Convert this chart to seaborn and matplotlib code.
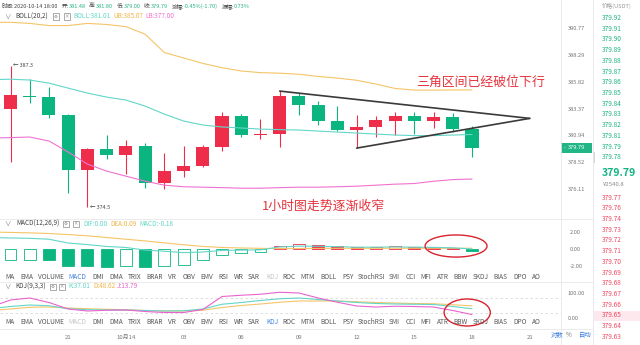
import numpy as np
import matplotlib
matplotlib.use("Agg")
import matplotlib.pyplot as plt
import seaborn as sns
from matplotlib.patches import Rectangle, Ellipse
from matplotlib.lines import Line2D
from matplotlib.ticker import NullLocator, NullFormatter

# ---------------- data ----------------
# hourly candles, 2020-10-13 18:00 through 2020-10-14 18:00
opens = [383.32, 384.55, 384.42, 382.77, 377.80, 379.69, 379.15, 379.96, 376.68, 377.71,
         378.16, 379.87, 382.70, 380.96, 381.05, 384.50, 383.68, 382.23, 381.42, 381.69,
         382.23, 382.70, 382.23, 382.60, 381.48]
highs = [387.30, 386.06, 385.33, 382.85, 379.75, 380.96, 380.51, 380.24, 379.33, 379.96,
         380.05, 383.06, 382.88, 382.43, 384.96, 384.78, 384.04, 383.59, 382.77, 382.70,
         383.06, 383.06, 383.06, 382.97, 381.80]
lows = [378.50, 383.86, 382.50, 375.73, 374.50, 378.79, 377.44, 376.18, 376.09, 377.17,
        378.10, 379.51, 380.78, 380.60, 379.87, 382.77, 381.87, 381.33, 379.78, 380.78,
        380.96, 381.05, 381.60, 381.23, 379.00]
closes = [384.60, 384.38, 382.77, 377.80, 379.69, 379.15, 379.96, 376.68, 377.71, 378.16,
          379.87, 382.70, 380.96, 381.06, 384.50, 383.68, 382.23, 381.42, 381.69, 382.33,
          382.70, 382.23, 382.60, 381.49, 379.79]

# indicator lines start one hour earlier (the bar just left of the window)
line_hours = list(range(-1, 25))
boll_mid = [386.00, 386.05, 385.97, 385.69, 385.23, 384.78, 384.41, 384.14, 383.59, 382.86,
            382.23, 381.87, 381.69, 381.60, 381.50, 381.45, 381.41, 381.32, 381.23, 381.14,
            381.05, 380.96, 380.91, 380.91, 380.96, 381.01]
boll_up = [391.30, 391.30, 391.20, 391.00, 391.00, 391.20, 391.10, 390.90, 390.20, 388.50,
           388.00, 387.50, 387.10, 386.80, 386.65, 386.60, 386.50, 386.30, 386.15, 385.95,
           385.60, 385.20, 385.05, 385.05, 385.06, 385.07]
boll_low = [380.69, 380.73, 380.78, 380.42, 379.42, 378.34, 377.71, 377.26, 376.81, 376.45,
            376.31, 376.27, 376.23, 376.18, 376.18, 376.23, 376.27, 376.27, 376.31, 376.36,
            376.45, 376.54, 376.60, 376.80, 376.95, 377.00]

dif = [1.35, 1.30, 1.26, 1.15, 0.70, 0.52, 0.30, 0.18, -0.13, -0.26, -0.43, -0.35, -0.17,
       -0.13, -0.10, 0.24, 0.34, 0.32, 0.28, 0.21, 0.22, 0.24, 0.22, 0.19, 0.14, 0.00]
dea = [2.00, 1.95, 1.90, 1.82, 1.70, 1.55, 1.35, 1.15, 0.95, 0.72, 0.50, 0.30, 0.18, 0.12,
       0.08, 0.06, 0.06, 0.07, 0.08, 0.08, 0.08, 0.09, 0.09, 0.09, 0.09, 0.09]
macd_hist = [-1.30, -1.28, -1.35, -2.00, -2.05, -2.10, -1.95, -2.15, -1.95, -1.85, -1.30,
             -0.70, -0.50, -0.35, 0.35, 0.55, 0.50, 0.40, 0.25, 0.28, 0.30, 0.25, 0.20,
             0.10, -0.18]

kdj_k = [38, 46, 52, 49, 37, 33, 32, 32, 30, 28, 29, 36, 55, 62, 70, 77, 80, 74, 68, 62,
         58, 56, 55, 54, 46, 37.01]
kdj_d = [30, 36, 43, 44, 40, 37, 35, 33, 30, 28, 28, 31, 42, 50, 56, 63, 68, 68, 68, 65,
         62, 60, 58, 57, 53, 48.62]
kdj_j = [45, 72, 80, 62, 36, 28, 31, 32, 26, 22, 22, 34, 86, 91, 95, 103, 100, 80, 63, 48,
         44, 47, 46, 44, 30, 13.79]

price_ticks = [390.77, 388.29, 385.82, 383.37, 380.94, 378.52, 376.11]
macd_ticks = [2.0, 0.0, -2.0]
kdj_ticks = [100.0, 0.0]
time_tick_hours = [3, 6, 9, 12, 15, 18, 21, 24, 27]
time_tick_labels = ["21", "10月14", "03", "06", "09", "12", "15", "18", "21"]

triangle_apex = (27.0, 382.47)

book_asks = ["379.92", "379.91", "379.90", "379.89", "379.88", "379.87", "379.86",
             "379.85", "379.84", "379.83", "379.82", "379.81", "379.79", "379.78"]
book_bids = ["379.77", "379.76", "379.74", "379.73", "379.72", "379.71", "379.70",
             "379.69", "379.68", "379.67", "379.66", "379.65", "379.64", "379.63"]
cny_price = "¥2540.8"

tab_names = ["MA", "EMA", "VOLUME", "MACD", "DMI", "DMA", "TRIX", "BRAR", "VR", "OBV",
             "EMV", "RSI", "WR", "SAR", "KDJ", "ROC", "MTM", "BOLL", "PSY", "StochRSI",
             "SMI", "CCI", "MFI", "ATR", "BBW", "SKDJ", "BIAS", "DPO", "AO"]

# ---------------- style ----------------
RED = "#ee2d4b"
GREEN = "#0bb57f"
TEAL = "#62d6c8"
ORANGE = "#f5c468"
PINK = "#ef72d0"
MAGENTA = "#e963cf"
VAL = "#27b487"
GREY = "#777777"
DARK = "#444444"
BLUE = "#3d7fdf"
LINE = "#e8e8e8"
NOTE_RED = "#e6343f"

sns.set_theme(style="white")
plt.rcParams["font.family"] = ["Noto Sans CJK SC", "DejaVu Sans"]
plt.rcParams["axes.unicode_minus"] = False

W, H = 640, 345
fig = plt.figure(figsize=(W / 100, H / 100), dpi=100, facecolor="white")
renderer = fig.canvas.get_renderer()


def px_axes(x0, y0, x1, y1):
    a = fig.add_axes([x0 / W, 1 - y1 / H, (x1 - x0) / W, (y1 - y0) / H])
    a.set_facecolor("none")
    for s in a.spines.values():
        s.set_visible(False)
    return a


def ftxt(x, y, s, size=4.6, color=DARK, ha="left", **kw):
    return fig.text(x / W, 1 - y / H, s, fontsize=size, color=color, ha=ha,
                    va="center", **kw)


def run_text(x, y, parts, size, gap=0.0):
    """Lay out coloured text pieces one after another starting at x."""
    for s, col, extra in parts:
        t = ftxt(x, y, s, size=size, color=col)
        bb = t.get_window_extent(renderer)
        x = bb.x1 * W / fig.bbox.width + extra + gap
    return x


def fline(x0, y0, x1, y1, color=LINE, lw=0.6):
    fig.add_artist(Line2D([x0 / W, x1 / W], [1 - y0 / H, 1 - y1 / H],
                          color=color, lw=lw, transform=fig.transFigure))


def frect(x0, y0, x1, y1, **kw):
    fig.add_artist(Rectangle((x0 / W, 1 - y1 / H), (x1 - x0) / W, (y1 - y0) / H,
                             transform=fig.transFigure, **kw))


def icon(x0, y0, kind):
    frect(x0, y0, x0 + 5.5, y0 + 6, facecolor="white", edgecolor="#8a8a8a", lw=0.5)
    ftxt(x0 + 2.75, y0 + 3, "⚙" if kind == "gear" else "×", size=3.2,
         color="#777777", ha="center")


XLIM = ((0 - 10.5) / 19.23, (561 - 10.5) / 19.23)
hours = np.arange(len(closes))
o = np.array(opens)
c = np.array(closes)
cols = np.where(c >= o, RED, GREEN)

# ---------------- main price panel ----------------
ax = px_axes(0, 0, 561, 217)
ax.set_yscale("log")
ax.vlines(hours, lows, highs, colors=cols, linewidth=0.8, zorder=3)
ax.bar(hours, np.maximum(np.abs(c - o), 0.09), bottom=np.minimum(o, c), width=0.68,
       color=cols, linewidth=0, zorder=4)
for vals, col in [(boll_up, ORANGE), (boll_mid, TEAL), (boll_low, PINK)]:
    sns.lineplot(x=line_hours, y=vals, ax=ax, color=col, linewidth=0.8, zorder=5,
                 legend=False)

# converging triangle
ax.plot([14, triangle_apex[0]], [highs[14], triangle_apex[1]], color="#3a3a3a",
        lw=1.2, zorder=6, solid_capstyle="round")
ax.plot([18, triangle_apex[0]], [lows[18], triangle_apex[1]], color="#3a3a3a",
        lw=1.2, zorder=6, solid_capstyle="round")

i_hi = int(np.argmax(highs))
i_lo = int(np.argmin(lows))
ax.annotate(f"← {highs[i_hi]:.1f}", xy=(i_hi, highs[i_hi]), xytext=(2, 0),
            textcoords="offset points", fontsize=3.9, color=DARK, va="center")
ax.annotate(f"← {lows[i_lo]:.1f}", xy=(i_lo, lows[i_lo]), xytext=(2, 0),
            textcoords="offset points", fontsize=3.9, color=DARK, va="center")

ax.set_xlim(*XLIM)
ax.set_ylim(373.615, 393.38)
ax.yaxis.tick_right()
ax.set_yticks(price_ticks)
ax.set_yticklabels([f"{v:.2f}" for v in price_ticks])
ax.yaxis.set_minor_locator(NullLocator())
ax.yaxis.set_minor_formatter(NullFormatter())
ax.set_xticks([])
ax.tick_params(axis="y", length=0, pad=5, labelsize=4.1, colors=GREY)
ax.set_xlabel("")
ax.set_ylabel("")

# ---------------- MACD panel ----------------
ax2 = px_axes(0, 225, 561, 272)
hist = np.array(macd_hist)
rising = np.r_[True, hist[1:] >= hist[:-1]]
hcol = np.where(hist >= 0, RED, GREEN)
face = np.where(rising, "white", hcol)
ax2.bar(hours, hist, width=0.62, color=face, edgecolor=hcol, linewidth=0.6, zorder=2)
sns.lineplot(x=line_hours, y=dea, ax=ax2, color=ORANGE, linewidth=0.8, zorder=4,
             legend=False)
sns.lineplot(x=line_hours, y=dif, ax=ax2, color=TEAL, linewidth=0.8, zorder=4,
             legend=False)
ax2.add_patch(Ellipse((23.17, 0.35), 3.22, 2.6, fill=False, edgecolor="#d9232e",
                      lw=1.0, zorder=6, clip_on=False))
ax2.set_xlim(*XLIM)
ax2.set_ylim(-2.706, 2.824)
ax2.yaxis.tick_right()
ax2.set_yticks(macd_ticks)
ax2.set_yticklabels([f"{v:.2f}" for v in macd_ticks])
ax2.set_xticks([])
ax2.tick_params(axis="y", length=0, pad=6, labelsize=4.1, colors=GREY)
ax2.set_xlabel("")
ax2.set_ylabel("")

# ---------------- KDJ panel ----------------
ax3 = px_axes(0, 289, 561, 321)
for lvl in (80, 20):
    ax3.axhline(lvl, color="#d9d9d9", lw=0.6, dashes=(3, 3), zorder=1)
sns.lineplot(x=line_hours, y=kdj_d, ax=ax3, color=ORANGE, linewidth=0.8, zorder=3,
             legend=False)
sns.lineplot(x=line_hours, y=kdj_k, ax=ax3, color=TEAL, linewidth=0.8, zorder=3,
             legend=False)
sns.lineplot(x=line_hours, y=kdj_j, ax=ax3, color=MAGENTA, linewidth=0.8, zorder=3,
             legend=False)
ax3.add_patch(Ellipse((23.75, 22), 2.4, 108, fill=False, edgecolor="#d9232e",
                      lw=1.0, zorder=6, clip_on=False))
ax3.set_xlim(*XLIM)
ax3.set_ylim(-12, 116)
ax3.yaxis.tick_right()
ax3.set_yticks(kdj_ticks)
ax3.set_yticklabels([f"{v:.2f}" for v in kdj_ticks])
ax3.set_xticks(time_tick_hours)
ax3.set_xticklabels(time_tick_labels)
ax3.tick_params(axis="y", length=0, pad=5, labelsize=4.1, colors=GREY)
ax3.tick_params(axis="x", length=0, pad=10, labelsize=4.3, colors=GREY)
ax3.set_xlabel("")
ax3.set_ylabel("")

# ---------------- frame lines ----------------
fline(561, 0, 561, 345)
fline(593, 0, 593, 345)
fline(0, 218.5, 593, 218.5)
fline(0, 281.5, 593, 281.5)
fline(0, 328.5, 593, 328.5)

# ---------------- header rows ----------------
hdr = 4.6
chg = closes[-1] - closes[-2]
pct = chg / closes[-2] * 100
amp = (highs[-1] - lows[-1]) / closes[-2] * 100
quote = [("时间:", DARK, 0), ("2020-10-14 18:00", DARK, 3.5),
         ("开:", DARK, 0), (f"{opens[-1]:.2f}", VAL, 3.5),
         ("高:", DARK, 0), (f"{highs[-1]:.2f}", VAL, 3.5),
         ("低:", DARK, 0), (f"{lows[-1]:.2f}", VAL, 3.5),
         ("收:", DARK, 0), (f"{closes[-1]:.2f}", VAL, 3.5),
         ("涨幅:", DARK, 0), (f"{pct:.2f}%({chg:.2f})", VAL, 3.5),
         ("振幅:", DARK, 0), (f"{amp:.2f}%", VAL, 0)]
run_text(2, 6, quote, size=4.0)

ftxt(7, 16.5, "∨", size=hdr, color=GREY, ha="center")
ftxt(15, 16.5, "BOLL(20,2)", size=hdr, color=DARK)
icon(53, 13.5, "gear")
icon(64, 13.5, "close")
ftxt(73, 16.5, f"BOLL:{boll_mid[-1]:.2f}", size=hdr, color=TEAL)
ftxt(113, 16.5, f"UB:{boll_up[-1]:.2f}", size=hdr, color="#f0b445")
ftxt(145, 16.5, f"LB:{boll_low[-1]:.2f}", size=hdr, color=PINK)

ftxt(7, 223.5, "∨", size=hdr, color=GREY, ha="center")
ftxt(16, 223.5, "MACD(12,26,9)", size=hdr, color=DARK)
icon(63, 220.5, "gear")
icon(73, 220.5, "close")
ftxt(83, 223.5, f"DIF:{dif[-1]:.2f}", size=hdr, color=TEAL)
ftxt(110, 223.5, f"DEA:{dea[-1]:.2f}", size=hdr, color="#f0b445")
ftxt(139, 223.5, f"MACD:{macd_hist[-1]:.2f}", size=hdr, color=TEAL)

ftxt(7, 286.5, "∨", size=hdr, color=GREY, ha="center")
ftxt(15, 286.5, "KDJ(9,3,3)", size=hdr, color=DARK)
icon(50, 283.5, "gear")
icon(59, 283.5, "close")
ftxt(68, 286.5, f"K:{kdj_k[-1]:.2f}", size=hdr, color=TEAL)
ftxt(93, 286.5, f"D:{kdj_d[-1]:.2f}", size=hdr, color="#f0b445")
ftxt(117, 286.5, f"J:{kdj_j[-1]:.2f}", size=hdr, color=MAGENTA)

# ---------------- indicator tab rows ----------------
tab_x = [9.5, 27, 51, 77, 98.5, 116, 135, 155, 172, 189, 206.5, 223, 239, 254, 272,
         288.5, 308, 328.5, 348, 372, 394, 411, 425.5, 442.5, 460.5, 480.5, 500.5,
         520.5, 536]
for row_y, active, muted in [(277, "MACD", "KDJ"), (322.5, "KDJ", "MACD")]:
    for name, tx in zip(tab_names, tab_x):
        col = BLUE if name == active else ("#c4c4c4" if name == muted else "#555555")
        ftxt(tx, row_y, name, size=4.7, color=col, ha="center")

ftxt(557.5, 335, "对数", size=4.6, color=BLUE, ha="center")
ftxt(569, 335, "%", size=4.6, color=GREY, ha="center")
ftxt(585, 335, "自动", size=4.6, color=BLUE, ha="center")

# ---------------- chart annotations ----------------
ftxt(416, 82, "三角区间已经破位下行", size=9.3, color=NOTE_RED)
ftxt(262, 206, "1小时图走势逐渐收窄", size=9.3, color=NOTE_RED)

# ---------------- last-price tag on the axis ----------------
y_disp = ax.transData.transform((0, closes[-1]))[1]
y_tag = H - y_disp * H / fig.bbox.height
frect(561, y_tag - 4.6, 592, y_tag + 4.6, facecolor="#22b687", edgecolor="none")
ftxt(563.5, y_tag, "-", size=4.0, color="white")
ftxt(577, y_tag, f"{closes[-1]:.2f}", size=4.1, color="white", ha="center")
frect(592.5, y_tag + 4, 595, y_tag + 15, facecolor="#d6d6d6", edgecolor="none")

# ---------------- order book column ----------------
ftxt(617, 5.5, "价格(USDT)", size=4.1, color="#9a9a9a", ha="center")
for k, p in enumerate(book_asks):
    ftxt(602, 18 + k * 10.72, p, size=4.7, color="#1fb386")
ftxt(601.5, 172.5, f"{closes[-1]:.2f}", size=7.6, color="#13b382", weight="bold")
ftxt(602.5, 184, cny_price, size=4.3, color="#8a8a8a")
frect(594, 310.5, 640, 320.5, facecolor="#fde9ed", edgecolor="none")
for k, p in enumerate(book_bids):
    ftxt(602, 197.5 + k * 10.72, p, size=4.7, color="#ef4a63")

fig.savefig("out.png", dpi=100, facecolor="white")
